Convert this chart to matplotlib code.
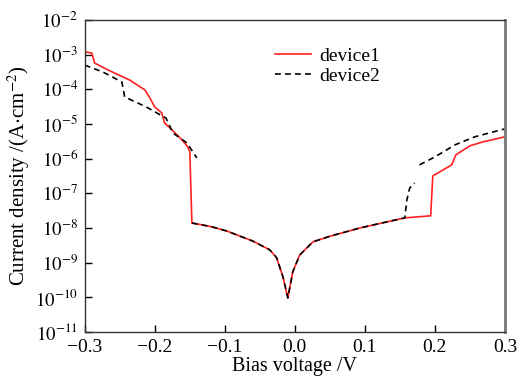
import numpy as np
import matplotlib
matplotlib.use("Agg")
import matplotlib.pyplot as plt
from matplotlib.ticker import FixedLocator, FuncFormatter

plt.rcParams['font.family'] = ['Liberation Serif', 'DejaVu Serif']
plt.rcParams['mathtext.fontset'] = 'stix'

# device1 (red, solid): bias voltage (V), log10 current density
d1_v = [-0.300, -0.290, -0.286, -0.267, -0.236, -0.214, -0.207, -0.200, -0.190, -0.186,
        -0.171, -0.161, -0.153, -0.150, -0.147, -0.146, -0.120, -0.097, -0.060, -0.036,
        -0.026, -0.017, -0.010, -0.003, 0.007, 0.026, 0.050, 0.077, 0.093, 0.157,
        0.194, 0.197, 0.224, 0.230, 0.250, 0.268, 0.300]
d1_logj = [-2.92, -2.95, -3.24, -3.44, -3.73, -4.02, -4.25, -4.51, -4.68, -4.97,
           -5.26, -5.46, -5.66, -5.80, -7.86, -7.86, -7.96, -8.09, -8.38, -8.63,
           -8.86, -9.41, -10.02, -9.27, -8.78, -8.40, -8.24, -8.09, -8.00, -7.71,
           -7.65, -6.50, -6.18, -5.89, -5.63, -5.52, -5.37]

# device2 (black, dashed); NaN marks breaks in the curve
d2_v = [-0.300, -0.274, -0.247, -0.243, -0.212, -0.184, -0.174, -0.154, -0.140, np.nan,
        -0.147, -0.120, -0.097, -0.060, -0.036, -0.026, -0.017, -0.010, -0.003, 0.007,
        0.026, 0.050, 0.077, 0.093, 0.157, 0.160, 0.164, 0.171, np.nan, 0.178,
        0.200, 0.229, 0.257, 0.300]
d2_logj = [-3.30, -3.50, -3.79, -4.22, -4.51, -4.83, -5.26, -5.55, -5.98, np.nan,
           -7.86, -7.96, -8.09, -8.38, -8.63, -8.86, -9.41, -10.02, -9.27, -8.78,
           -8.40, -8.24, -8.09, -8.00, -7.71, -7.19, -6.85, -6.70, np.nan, -6.18,
           -5.95, -5.60, -5.37, -5.14]

x_ticks = [-0.3, -0.2, -0.1, 0.0, 0.1, 0.2, 0.3]
x_labels = ['\u22120.3', '\u22120.2', '\u22120.1', '0.0', '0.1', '0.2', '0.3']
y_exps = [-11, -10, -9, -8, -7, -6, -5, -4, -3, -2]

fig = plt.figure(figsize=(5.2, 3.78), dpi=100)
ax = fig.add_axes([0.163, 0.122, 0.808, 0.825])

ax.plot(d1_v, 10.0 ** np.array(d1_logj), color='#ff2020', lw=1.2, label='device1')
ax.plot(d2_v, 10.0 ** np.array(d2_logj), color='black', lw=1.2, ls=(0, (3.5, 2.5)), label='device2')

ax.set_yscale('log')
ax.set_xlim(-0.3, 0.3)
ax.set_ylim(1e-11, 1e-2)
ax.set_xticks(x_ticks)
ax.set_xticklabels(x_labels)
ax.yaxis.set_major_locator(FixedLocator([10.0 ** e for e in y_exps]))
ax.yaxis.set_minor_locator(FixedLocator([]))
ax.yaxis.set_major_formatter(FuncFormatter(lambda v, p: r'$10^{%d}$' % round(np.log10(v))))
ax.tick_params(axis='x', direction='in', length=5, width=1, labelsize=14,
               top=False, pad=5)
ax.tick_params(axis='y', direction='in', length=5, width=1, labelsize=13.5,
               right=False, pad=5)

for s in ['left', 'bottom', 'top']:
    ax.spines[s].set_color('#333333')
    ax.spines[s].set_linewidth(1.0)
ax.spines['right'].set_color('#777777')
ax.spines['right'].set_linewidth(2.0)

ax.set_xlabel('Bias voltage /V', fontsize=14.5, labelpad=0.5)
ax.set_ylabel(r'Current density /(A$\cdot$cm$^{-2}$)', fontsize=15, labelpad=2)

leg = ax.legend(loc='upper left', bbox_to_anchor=(0.41, 0.97), frameon=False,
                fontsize=14, handlelength=1.9, handletextpad=0.4, labelspacing=0.15)

fig.savefig('out.png', dpi=100)
